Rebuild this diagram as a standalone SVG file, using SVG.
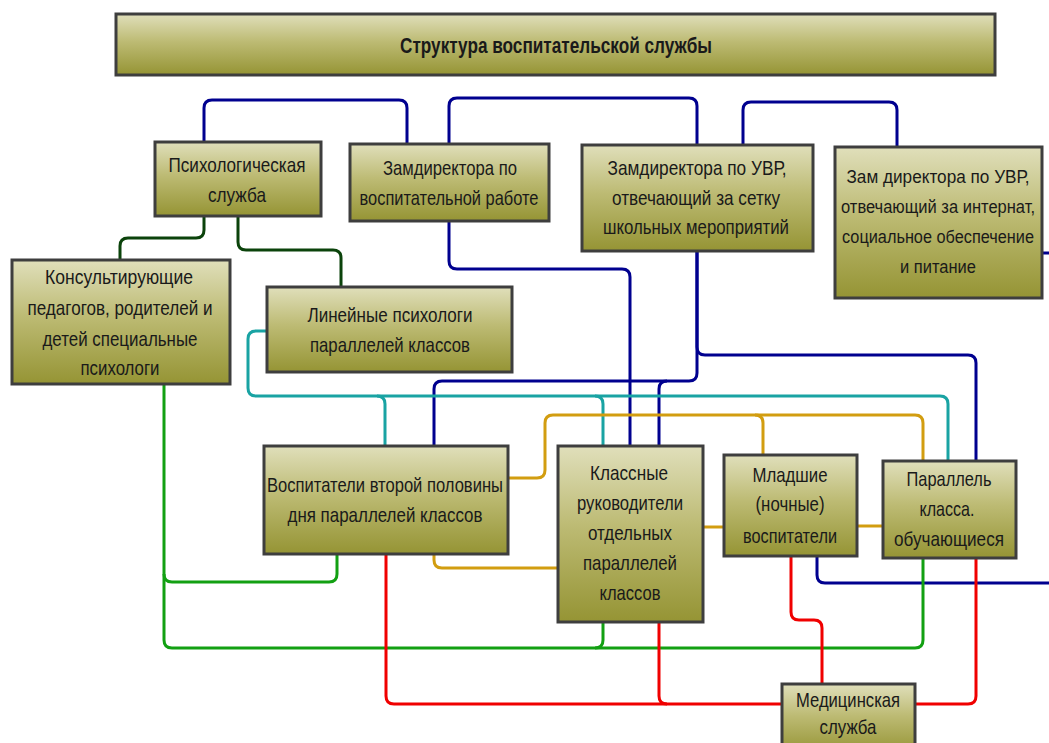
<svg xmlns="http://www.w3.org/2000/svg" width="1049" height="743" viewBox="0 0 1049 743">
<defs>
<linearGradient id="olive" x1="0" y1="0" x2="0" y2="1">
<stop offset="0" stop-color="#e0dfbb"/>
<stop offset="0.45" stop-color="#bdbb74"/>
<stop offset="1" stop-color="#959434"/>
</linearGradient>
<style>
.box{fill:url(#olive);stroke:#3e3e3e;stroke-width:3}
.t{font-family:"Liberation Sans Narrow","Liberation Sans",Arial,sans-serif;font-size:21px;fill:#1a1a1a}
.ts{font-size:17.5px}
.tt{font-family:"Liberation Sans Narrow","Liberation Sans",Arial,sans-serif;font-size:22px;font-weight:bold;fill:#1a1a1a}
.c{fill:none;stroke-width:3;stroke-linejoin:round}
.navy{stroke:#00008f}
.dg{stroke:#0b430b}
.teal{stroke:#19a3a3}
.gold{stroke:#d29d10}
.gr{stroke:#12a012}
.red{stroke:#f00000}
</style>
</defs>
<rect width="1049" height="743" fill="#ffffff"/>
<g id="connectors">
<path class="c navy" d="M204,142 V108 Q204,100 212,100 H399 Q407,100 407,108 V144"/>
<path class="c navy" d="M449,144 V106 Q449,98 457,98 H689 Q697,98 697,106 V145"/>
<path class="c navy" d="M743,145 V110 Q743,102 751,102 H889 Q897,102 897,110 V147"/>
<path class="c navy" d="M1042,253 H1049"/>
<path class="c navy" d="M449,221 V261 Q449,269 457,269 H622 Q630,269 630,277 V446"/>
<path class="c navy" d="M697,251 V373 Q697,381 689,381 H442 Q434,381 434,389 V446"/>
<path class="c navy" d="M667,381 Q659,381 659,389 V446"/>
<path class="c navy" d="M697,251 V347 Q697,355 705,355 H968 Q976,355 976,363 V461"/>
<path class="c navy" d="M817,556 V575 Q817,583 825,583 H1049"/>
<path class="c dg" d="M204,216 V230 Q204,238 196,238 H128 Q120,238 120,246 V260"/>
<path class="c dg" d="M238,216 V242 Q238,250 246,250 H333 Q341,250 341,258 V287"/>
<path class="c teal" d="M267,331 H256 Q248,331 248,339 V388 Q248,396 256,396 H940 Q948,396 948,404 V461"/>
<path class="c teal" d="M377,396 Q385,396 385,404 V446"/>
<path class="c teal" d="M595,396 Q603,396 603,404 V446"/>
<path class="c gold" d="M508,478 H537 Q545,478 545,470 V423 Q545,415 553,415 H915 Q923,415 923,423 V461"/>
<path class="c gold" d="M755,415 Q763,415 763,423 V455"/>
<path class="c gold" d="M434,554 V560 Q434,568 442,568 H558"/>
<path class="c gold" d="M703,527 H724"/>
<path class="c gold" d="M857,526 H883"/>
<path class="c gr" d="M164,384 V640 Q164,648 172,648 H915 Q923,648 923,640 V558"/>
<path class="c gr" d="M164,574 Q164,582 172,582 H329 Q337,582 337,574 V554"/>
<path class="c gr" d="M603,622 V640 Q603,648 595,648"/>
<path class="c red" d="M386,554 V696 Q386,704 394,704 H782"/>
<path class="c red" d="M659,622 V696 Q659,704 667,704"/>
<path class="c red" d="M791,556 V612 Q791,620 799,620 H814 Q822,620 822,628 V684"/>
<path class="c red" d="M976,558 V696 Q976,704 968,704 H915"/>
</g>
<g id="title">
<rect class="box" x="116" y="14" width="879" height="61"/>
<text class="tt" x="400" y="53" textLength="312" lengthAdjust="spacingAndGlyphs">Структура воспитательской службы</text>
</g>
<g id="psych">
<rect class="box" x="155" y="142" width="166" height="74"/>
<text class="t" x="168.5" y="172" textLength="137" lengthAdjust="spacingAndGlyphs">Психологическая</text>
<text class="t" x="208" y="202" textLength="58" lengthAdjust="spacingAndGlyphs">служба</text>
</g>
<g id="zam-vosp">
<rect class="box" x="350" y="144" width="199" height="77"/>
<text class="t" x="383" y="175" textLength="134" lengthAdjust="spacingAndGlyphs">Замдиректора по</text>
<text class="t" x="359.5" y="205" textLength="179" lengthAdjust="spacingAndGlyphs">воспитательной работе</text>
</g>
<g id="zam-uvr">
<rect class="box" x="582" y="145" width="231" height="106"/>
<text class="t" x="607.5" y="175" textLength="179" lengthAdjust="spacingAndGlyphs">Замдиректора по УВР,</text>
<text class="t" x="612" y="205" textLength="168" lengthAdjust="spacingAndGlyphs">отвечающий за сетку</text>
<text class="t" x="603" y="234" textLength="186" lengthAdjust="spacingAndGlyphs">школьных мероприятий</text>
</g>
<g id="zam-internat">
<rect class="box" x="835" y="147" width="207" height="151"/>
<text class="t ts" x="846.5" y="183" textLength="183" lengthAdjust="spacingAndGlyphs">Зам директора по УВР,</text>
<text class="t ts" x="841" y="213" textLength="194" lengthAdjust="spacingAndGlyphs">отвечающий за интернат,</text>
<text class="t ts" x="842" y="243" textLength="192" lengthAdjust="spacingAndGlyphs">социальное обеспечение</text>
<text class="t ts" x="900" y="273" textLength="76" lengthAdjust="spacingAndGlyphs">и питание</text>
</g>
<g id="consult">
<rect class="box" x="12" y="260" width="218" height="124"/>
<text class="t" x="45" y="284" textLength="148" lengthAdjust="spacingAndGlyphs">Консультирующие</text>
<text class="t" x="27.5" y="315" textLength="185" lengthAdjust="spacingAndGlyphs">педагогов, родителей и</text>
<text class="t" x="42.5" y="346" textLength="155" lengthAdjust="spacingAndGlyphs">детей специальные</text>
<text class="t" x="80.5" y="375" textLength="79" lengthAdjust="spacingAndGlyphs">психологи</text>
</g>
<g id="linear">
<rect class="box" x="267" y="287" width="245" height="85"/>
<text class="t" x="307.5" y="322" textLength="165" lengthAdjust="spacingAndGlyphs">Линейные психологи</text>
<text class="t" x="310" y="352" textLength="160" lengthAdjust="spacingAndGlyphs">параллелей классов</text>
</g>
<g id="vospit">
<rect class="box" x="264" y="446" width="244" height="108"/>
<text class="t" x="267" y="492" textLength="236" lengthAdjust="spacingAndGlyphs">Воспитатели второй половины</text>
<text class="t" x="287.5" y="522" textLength="195" lengthAdjust="spacingAndGlyphs">дня параллелей классов</text>
</g>
<g id="klassnye">
<rect class="box" x="558" y="446" width="145" height="176"/>
<text class="t" x="590" y="480" textLength="78" lengthAdjust="spacingAndGlyphs">Классные</text>
<text class="t" x="577" y="510" textLength="106" lengthAdjust="spacingAndGlyphs">руководители</text>
<text class="t" x="588" y="540" textLength="84" lengthAdjust="spacingAndGlyphs">отдельных</text>
<text class="t" x="583" y="570" textLength="94" lengthAdjust="spacingAndGlyphs">параллелей</text>
<text class="t" x="599.5" y="600" textLength="61" lengthAdjust="spacingAndGlyphs">классов</text>
</g>
<g id="mladshie">
<rect class="box" x="724" y="455" width="133" height="101"/>
<text class="t" x="752.5" y="482" textLength="75" lengthAdjust="spacingAndGlyphs">Младшие</text>
<text class="t" x="755.5" y="511" textLength="69" lengthAdjust="spacingAndGlyphs">(ночные)</text>
<text class="t" x="743" y="543" textLength="94" lengthAdjust="spacingAndGlyphs">воспитатели</text>
</g>
<g id="parallel">
<rect class="box" x="883" y="461" width="133" height="97"/>
<text class="t" x="906.5" y="486" textLength="85" lengthAdjust="spacingAndGlyphs">Параллель</text>
<text class="t" x="919.5" y="516" textLength="55" lengthAdjust="spacingAndGlyphs">класса.</text>
<text class="t" x="894" y="546" textLength="110" lengthAdjust="spacingAndGlyphs">обучающиеся</text>
</g>
<g id="medical">
<rect class="box" x="782" y="684" width="133" height="70"/>
<text class="t" x="796" y="707" textLength="104" lengthAdjust="spacingAndGlyphs">Медицинская</text>
<text class="t" x="819.5" y="734" textLength="57" lengthAdjust="spacingAndGlyphs">служба</text>
</g>
</svg>
